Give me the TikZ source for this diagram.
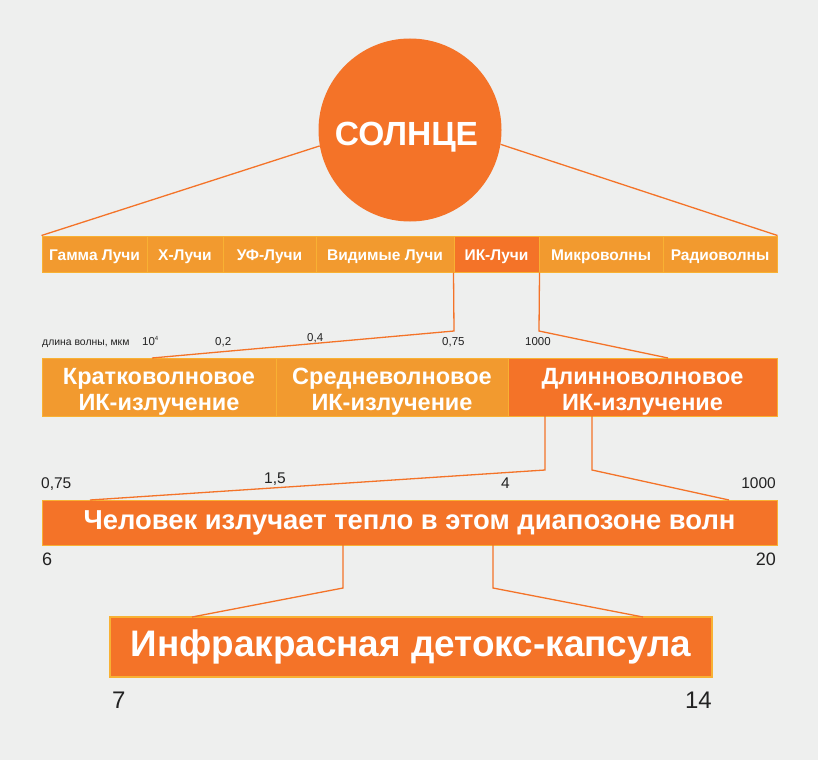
\documentclass[tikz,border=0pt]{standalone}
\usepackage{fontspec}
\setmainfont{Liberation Sans}
\usetikzlibrary{calc}
\definecolor{bg}{HTML}{EEEFEE}
\definecolor{lor}{HTML}{F29A2F}
\definecolor{dor}{HTML}{F47328}
\definecolor{bord}{HTML}{F8B133}
\definecolor{txt}{HTML}{222222}
\tikzset{
  cell/.style={draw=bord, line width=1pt, fill=lor, text=white, inner sep=0pt,
    font=\bfseries\fontsize{15.5}{18}\selectfont, minimum height=36,
    text height=12, text depth=0},
  darkcell/.style={cell, fill=dor},
  band/.style={draw=bord, line width=1pt, fill=lor, inner sep=0pt, minimum height=58},
  darkband/.style={band, fill=dor},
  bandtext/.style={text=white, inner sep=0pt, align=center,
    font=\bfseries\fontsize{23.5}{26}\selectfont, yshift=-4.5},
  conn/.style={draw=dor, line width=1.3pt},
  num/.style={inner sep=0pt, text=txt, font=\fontsize{11.5}{13}\selectfont},
  numb/.style={inner sep=0pt, text=txt, font=\fontsize{15.5}{18}\selectfont},
  numc/.style={inner sep=0pt, text=txt, font=\fontsize{18}{20}\selectfont},
  numd/.style={inner sep=0pt, text=txt, font=\fontsize{24}{26}\selectfont},
}
\begin{document}
\begin{tikzpicture}[x=1pt,y=-1pt]
\useasboundingbox (0,0) rectangle (818,760);
\fill[bg] (0,0) rectangle (818,760);

% sun
\node[circle, fill=dor, minimum size=183, inner sep=0pt, text=white,
  text height=30, text depth=0,
  font=\bfseries\fontsize{33.5}{36}\selectfont] (sun) at (410,130) {\hspace*{-7pt}СОЛНЦЕ};

% spectrum bar
\node[cell, minimum width=105] (gamma) at (94.5,254) {Гамма Лучи};
\node[cell, minimum width=76]  (xray)  at (185,254) {X-Лучи};
\node[cell, minimum width=93]  (uv)    at (269.5,254) {УФ-Лучи};
\node[cell, minimum width=138] (vis)   at (385,254) {Видимые Лучи};
\node[darkcell, minimum width=85] (ik) at (496.5,254) {ИК-Лучи};
\node[cell, minimum width=124] (micro) at (601,254) {Микроволны};
\node[cell, minimum width=114] (radio) at (720,254) {Радиоволны};

\draw[conn] (sun.190) -- (gamma.north west);
\draw[conn] (sun.-9) -- (radio.north east);

% wavelength labels row 1
\node[num, anchor=base west, font=\fontsize{10.4}{12}\selectfont] (lbl) at (42,345) {длина волны, мкм};
\node[num, anchor=base west] (n104) at (142,345) {10\raisebox{0.75ex}{\fontsize{6}{6}\selectfont 4}};
\node[num, anchor=base west] (n02) at (215,345) {0,2};
\node[num, anchor=base west] (n04) at (307,341) {0,4};
\node[num, anchor=base west] (n075) at (442,345) {0,75};
\node[num, anchor=base west] (n1000) at (525,345) {1000};

% IR bands
\node[band, minimum width=234,
  label={[bandtext]center:{Кратковолновое\\ИК-излучение}}] (short) at (159,387) {};
\node[band, minimum width=232,
  label={[bandtext]center:{Средневолновое\\ИК-излучение}}] (mid) at (392,387) {};
\node[darkband, minimum width=269,
  label={[bandtext]center:{Длинноволновое\\ИК-излучение}}] (long) at (642.5,387) {};

\coordinate (k1) at (454,331);
\coordinate (m1) at (152,358);
\coordinate (k2) at (539,331);
\coordinate (m2) at (668,358);
\draw[conn] (ik.south west) -- (k1) -- (m1);
\draw[conn] (ik.south east) -- (k2) -- (m2);

% wavelength labels row 2
\node[numb, anchor=base west] (r075) at (41,488) {0,75};
\node[numb, anchor=base west] (r15) at (264,483) {1,5};
\node[numb, anchor=base west] (r4) at (501,488) {4};
\node[numb, anchor=base east] (r1000) at (776,488) {1000};

% human band
\node[draw=bord, line width=1pt, fill=dor, text=white, inner sep=0pt,
  minimum width=735, minimum height=45,
  font=\bfseries\fontsize{27.4}{30}\selectfont] (human) at (409.5,522.5)
  {Человек излучает тепло в этом диапозоне волн};

\coordinate (l1) at (545,416);
\coordinate (l1b) at (545,470);
\coordinate (h1) at (90,500);
\coordinate (l2) at (592,416);
\coordinate (l2b) at (592,470);
\coordinate (h2) at (729,500);
\draw[conn] (l1) -- (l1b) -- (h1);
\draw[conn] (l2) -- (l2b) -- (h2);

\node[numc, anchor=base west] (s6) at (42,565) {6};
\node[numc, anchor=base east] (s20) at (776,565) {20};

% capsule band
\node[draw=bord, line width=1.5pt, fill=dor, text=white, inner sep=0pt,
  minimum width=602, minimum height=60,
  font=\bfseries\fontsize{36.9}{40}\selectfont] (caps) at (411,647)
  {Инфракрасная детокс-капсула};

\coordinate (c1) at (343,545);
\coordinate (c1b) at (343,588);
\coordinate (d1) at (192,617);
\coordinate (c2) at (493,545);
\coordinate (c2b) at (493,588);
\coordinate (d2) at (643,617);
\draw[conn] (c1) -- (c1b) -- (d1);
\draw[conn] (c2) -- (c2b) -- (d2);

\node[numd, anchor=base west] (t7) at (112,708) {7};
\node[numd, anchor=base east] (t14) at (712,708) {14};
\end{tikzpicture}
\end{document}
